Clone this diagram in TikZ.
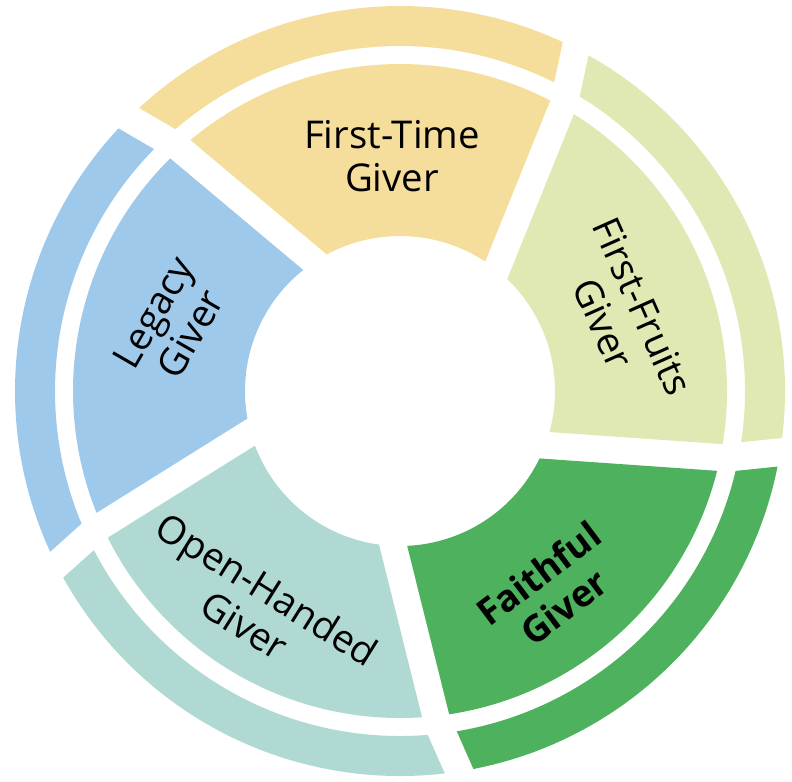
\documentclass[tikz,border=0pt]{standalone}
\usepackage{fontspec}
\setmainfont{Open Sans}
\usepackage{tikz}
\definecolor{fruitgreen}{RGB}{224,232,180}
\definecolor{timegold}{RGB}{245,221,155}
\definecolor{legacyblue}{RGB}{159,201,234}
\definecolor{openteal}{RGB}{176,217,211}
\definecolor{faithgreen}{RGB}{77,177,93}
\def\ringpart[#1](#2:#3:#4)(#5:#6:#7){\fill[#1] (#2:#4) arc (#2:#3:#4) -- (#6:#7) arc (#6:#5:#7) -- cycle;}
\tikzset{giver/.style={align=center, text=black, font=\fontsize{10.9}{12.2}\selectfont}}

\begin{document}
\begin{tikzpicture}
		%%%%% START %%%%%
		\useasboundingbox (-4.00, -3.90) rectangle (3.92, 3.91);
		
		% inner pieces
		\ringpart[fruitgreen](-9.35:57.87:3.27)(-15.35:46.22:1.55)
		\ringpart[timegold](62.65:129.87:3.27)(56.65:118.22:1.55)
		\ringpart[legacyblue](134.65:201.87:3.27)(128.65:190.22:1.55)
		\ringpart[openteal](206.65:273.87:3.27)(200.65:262.22:1.55)
		\ringpart[faithgreen](278.65:345.87:3.27)(272.65:334.22:1.55)
		
		% outer band
		\ringpart[fruitgreen](-7.01:60.68:3.85)(-8.53:58.61:3.45)
		\ringpart[timegold](64.99:132.68:3.85)(63.47:130.61:3.45)
		\ringpart[legacyblue](136.99:204.68:3.85)(135.47:202.61:3.45)
		\ringpart[openteal](208.99:276.68:3.85)(207.47:274.61:3.45)
		\ringpart[faithgreen](280.99:348.68:3.85)(279.47:346.61:3.45)
		
		\node[giver] (firsttime) at (-0.08, 2.35) {First-Time\\Giver};
		\node[giver, rotate=-66] (firstfruits) at (2.23, 0.76) {First-Fruits\\Giver};
		\node[giver, rotate=60] (legacy) at (-2.28, 0.68) {Legacy\\Giver};
		\node[giver, rotate=-32] (openhanded) at (-1.44, -2.16) {Open-Handed\\Giver};
		\node[giver, rotate=37, font=\fontsize{10.5}{12}\selectfont\bfseries] (faithful) at (1.51, -1.99) {Faithful\\Giver};
		%%%%% END %%%%%
\end{tikzpicture}
\end{document}
